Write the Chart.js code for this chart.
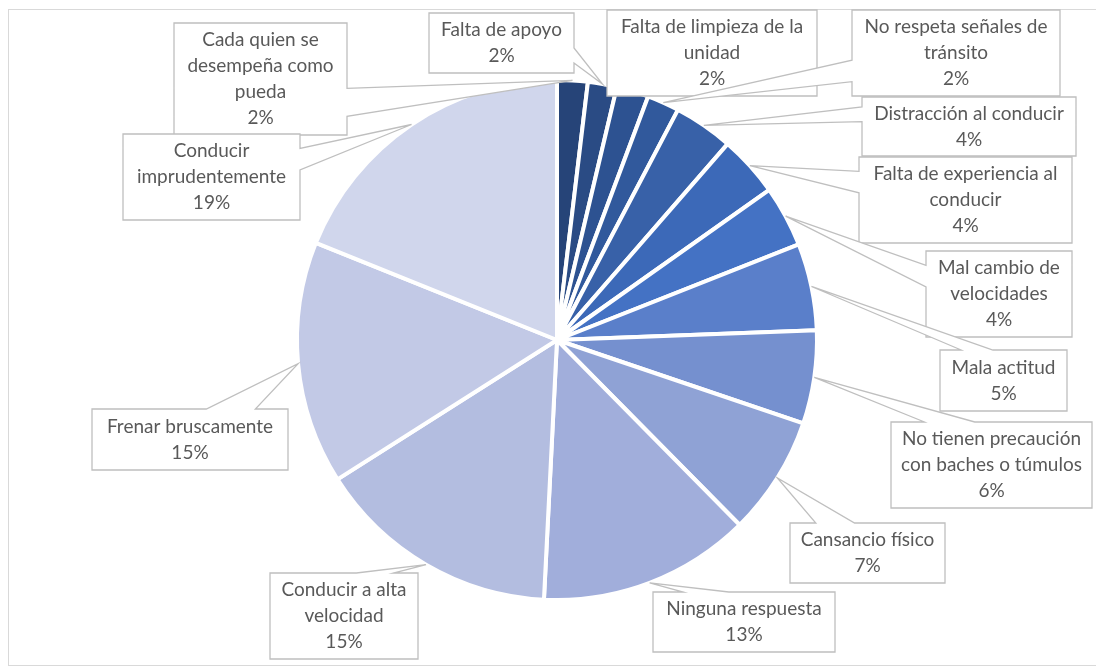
<!DOCTYPE html>
<html>
<head>
<meta charset="utf-8">
<script src="https://cdn.jsdelivr.net/npm/chart.js@4"></script>
<style>
  html, body { margin: 0; padding: 0; background: #fff; }
  #wrap { width: 1096px; height: 668px; position: relative; }
</style>
</head>
<body>
<div id="wrap"><canvas id="myChart"></canvas></div>
<script>
const categories = [
  'Cada quien se desempeña como pueda',
  'Falta de apoyo',
  'Falta de limpieza de la unidad',
  'No respeta señales de tránsito',
  'Distracción al conducir',
  'Falta de experiencia al conducir',
  'Mal cambio de velocidades',
  'Mala actitud',
  'No tienen precaución con baches o túmulos',
  'Cansancio físico',
  'Ninguna respuesta',
  'Conducir a alta velocidad',
  'Frenar bruscamente',
  'Conducir imprudentemente'
];
const values = [1.9, 1.8, 2.0, 2.0, 3.7, 3.8, 3.8, 5.4, 5.8, 7.4, 13.2, 15.2, 15.1, 18.9];

const sliceColors = [
  '#264478', '#2a4b84', '#2d5291', '#31599c', '#3861a8', '#3c69b8', '#4472c4',
  '#5a7fca', '#7590cf', '#8fa2d5', '#a1aedb', '#b3bde0', '#c2c9e6', '#d0d6ec'
];

// callout boxes [left, top, width, height], one per slice
const labelBoxes = [
  [174, 23, 173, 112],
  [429, 13, 145, 60],
  [607, 10, 210, 86],
  [852, 10, 208, 86],
  [862, 97, 214, 59],
  [859, 157, 213, 86],
  [926, 251, 146, 86],
  [940, 350, 127, 61],
  [891, 422, 201, 86],
  [790, 523, 155, 60],
  [653, 592, 182, 60],
  [270, 573, 148, 86],
  [92, 409, 196, 61],
  [123, 134, 177, 86]
];

const labelFont = '19px Lato';
const lineH = 26;

function wrapText(ctx, text, maxW) {
  const words = text.split(' ');
  const lines = [];
  let cur = '';
  words.forEach(w => {
    const test = cur ? cur + ' ' + w : w;
    if (cur && ctx.measureText(test).width > maxW) {
      lines.push(cur);
      cur = w;
    } else {
      cur = test;
    }
  });
  if (cur) lines.push(cur);
  return lines;
}

// excel style wedge callout
function calloutPath(ctx, l, t, w, h, px, py) {
  const r = l + w, b = t + h;
  const dxPos = px - (l + w / 2), dyPos = py - (t + h / 2);
  const dq = dxPos * h / w;
  const dz = Math.abs(dyPos) - Math.abs(dq);
  const x1 = l + w * (dxPos > 0 ? 7 : 2) / 12;
  const x2 = l + w * (dxPos > 0 ? 10 : 5) / 12;
  const y1 = t + h * (dyPos > 0 ? 7 : 2) / 12;
  const y2 = t + h * (dyPos > 0 ? 10 : 5) / 12;
  const inside = px > l && px < r && py > t && py < b;
  const top = !inside && dz > 0 && dyPos < 0;
  const bottom = !inside && dz > 0 && dyPos > 0;
  const left = !inside && dz <= 0 && dxPos < 0;
  const right = !inside && dz <= 0 && dxPos > 0;
  ctx.moveTo(l, t);
  ctx.lineTo(x1, t);
  if (top) ctx.lineTo(px, py);
  ctx.lineTo(x2, t);
  ctx.lineTo(r, t);
  ctx.lineTo(r, y1);
  if (right) ctx.lineTo(px, py);
  ctx.lineTo(r, y2);
  ctx.lineTo(r, b);
  ctx.lineTo(x2, b);
  if (bottom) ctx.lineTo(px, py);
  ctx.lineTo(x1, b);
  ctx.lineTo(l, b);
  ctx.lineTo(l, y2);
  if (left) ctx.lineTo(px, py);
  ctx.lineTo(l, y1);
  ctx.closePath();
}

const frame = {
  id: 'frame',
  beforeDraw(chart) {
    const ctx = chart.ctx;
    ctx.save();
    ctx.fillStyle = '#fff';
    ctx.fillRect(0, 0, chart.width, chart.height);
    ctx.strokeStyle = '#d9d9d9';
    ctx.lineWidth = 1;
    ctx.strokeRect(8.5, 9.5, chart.width, 656);
    ctx.restore();
  }
};

const callouts = {
  id: 'callouts',
  afterDatasetsDraw(chart) {
    const ctx = chart.ctx;
    const arcs = chart.getDatasetMeta(0).data;
    const total = values.reduce((a, b) => a + b, 0);
    ctx.save();
    ctx.font = labelFont;
    arcs.forEach((arc, i) => {
      const p = arc.getProps(['x', 'y', 'startAngle', 'endAngle', 'outerRadius'], true);
      const mid = (p.startAngle + p.endAngle) / 2;
      const tx = p.x + Math.cos(mid) * p.outerRadius;
      const ty = p.y + Math.sin(mid) * p.outerRadius;
      const [l, t, w, h] = labelBoxes[i];

      ctx.beginPath();
      calloutPath(ctx, l, t, w, h, tx, ty);
      ctx.fillStyle = '#fff';
      ctx.fill();
      ctx.strokeStyle = '#bfbfbf';
      ctx.lineWidth = 1.3;
      ctx.lineJoin = 'miter';
      ctx.stroke();

      const lines = wrapText(ctx, categories[i], w - 8);
      lines.push(Math.round(values[i] / total * 100) + '%');
      ctx.fillStyle = '#595959';
      ctx.textAlign = 'center';
      ctx.textBaseline = 'middle';
      const y0 = t + h / 2 - (lines.length - 1) * lineH / 2;
      lines.forEach((s, k) => ctx.fillText(s, l + w / 2, y0 + k * lineH));
    });
    ctx.restore();
  }
};

const ctx = document.getElementById('myChart');

new Chart(ctx, {
  type: 'pie',
  data: {
    labels: categories,
    datasets: [{
      data: values,
      backgroundColor: sliceColors,
      borderColor: '#ffffff',
      borderWidth: 4
    }]
  },
  options: {
    responsive: true,
    maintainAspectRatio: false,
    animation: false,
    layout: {
      padding: { top: 78, bottom: 66, left: 295, right: 277 }
    },
    plugins: {
      legend: { display: false },
      tooltip: { enabled: false }
    }
  },
  plugins: [frame, callouts]
});
</script>
</body>
</html>
